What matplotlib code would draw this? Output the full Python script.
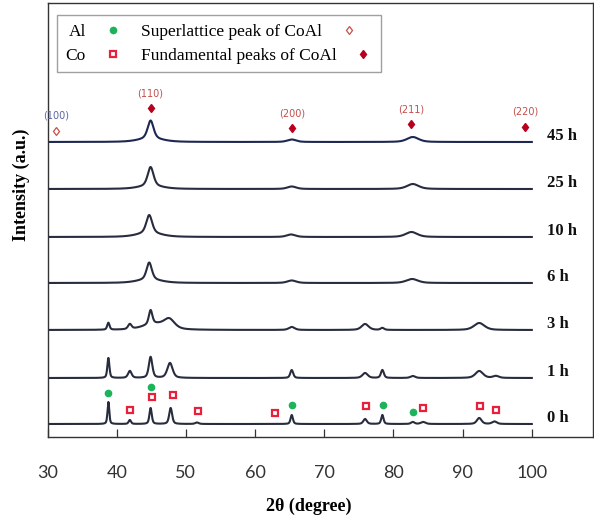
import numpy as np
import matplotlib
matplotlib.use("Agg")
import matplotlib.pyplot as plt

# ---------------- data ----------------
hours = ["0 h", "1 h", "3 h", "6 h", "10 h", "25 h", "45 h"]
offsets = [13, 59, 107, 154, 200, 248, 295]          # vertical stacking offsets (a.u.)

pos_0h = [38.8, 41.9, 44.9, 47.8, 51.6, 65.3, 75.9, 78.4, 82.8, 84.3, 92.4, 94.6]
amp_0h = [22, 4, 16, 16, 1.5, 9, 5, 9, 2, 2, 6, 2.5]
wid_0h = [0.3, 0.4, 0.4, 0.5, 0.6, 0.4, 0.6, 0.4, 0.6, 0.8, 0.8, 0.8]

pos_1h = [38.8, 41.9, 44.9, 47.7, 65.3, 75.9, 78.4, 82.8, 92.4, 94.8]
amp_1h = [20, 7, 21, 15, 8, 5, 8, 2, 7, 2]
wid_1h = [0.35, 0.6, 0.6, 0.9, 0.5, 0.9, 0.5, 0.8, 1.3, 1.0]

pos_3h = [38.8, 41.9, 44.9, 45.5, 47.6, 65.3, 75.9, 78.4, 92.4]
amp_3h = [7, 5, 14, 6, 9, 3, 6, 2, 7]
wid_3h = [0.4, 0.6, 0.6, 4.0, 1.8, 1.0, 1.2, 0.6, 1.8]

pos_6h = [44.7, 44.7, 65.3, 82.7]
amp_6h = [17, 3.5, 2.5, 4]
wid_6h = [0.9, 4.0, 1.5, 2.0]

pos_10h = [44.7, 44.7, 65.2, 82.6]
amp_10h = [18, 4, 2.5, 5]
wid_10h = [1.0, 4.0, 1.5, 2.0]

pos_25h = [44.9, 44.9, 65.3, 82.8]
amp_25h = [19, 3, 2.5, 5]
wid_25h = [1.0, 4.0, 1.5, 2.0]

pos_45h = [44.9, 44.9, 65.3, 82.8]
amp_45h = [18, 3.5, 2.5, 5]
wid_45h = [1.0, 4.0, 1.5, 2.0]

# phase markers on the 0 h pattern
al_pos = [38.8, 44.9, 65.3, 78.5, 82.8]
al_int = [44, 50, 32, 32, 25]
co_pos = [41.9, 45.05, 48.1, 51.7, 62.9, 76.1, 84.3, 92.5, 94.8]
co_int = [27, 40, 42, 26, 24, 31, 29, 31, 27]

# CoAl reflections on the 45 h pattern
hkl_labels = ["(100)", "(110)", "(200)", "(211)", "(220)"]
hkl_pos = [31.2, 44.9, 65.3, 82.6, 99.0]
hkl_int = [306, 329, 309, 313, 310]

xticks = [30, 40, 50, 60, 70, 80, 90, 100]

# ---------------- figure ----------------
W, H = 594, 519
fig = plt.figure(figsize=(W / 100, H / 100), dpi=100)
ax = fig.add_axes([47.5 / W, (H - 437) / H, (592.7 - 47.5) / W, (437 - 3) / H])

two_theta = np.linspace(30, 100, 3501)


def profile(pos, amp, wid):
    y = np.zeros_like(two_theta)
    for p, a, w in zip(pos, amp, wid):
        hw = w / 2.0
        lor = 1.0 / (1.0 + ((two_theta - p) / hw) ** 2)
        gau = np.exp(-np.log(2) * ((two_theta - p) / hw) ** 2)
        y += a * (0.5 * lor + 0.5 * gau)
    return y


patterns = [
    (pos_0h, amp_0h, wid_0h),
    (pos_1h, amp_1h, wid_1h),
    (pos_3h, amp_3h, wid_3h),
    (pos_6h, amp_6h, wid_6h),
    (pos_10h, amp_10h, wid_10h),
    (pos_25h, amp_25h, wid_25h),
    (pos_45h, amp_45h, wid_45h),
]

for (p, a, w), off, lab in zip(patterns, offsets, hours):
    col = "#1d2752" if lab == "45 h" else "#272c3e"
    ax.plot(two_theta, off + profile(p, a, w), color=col, lw=1.5, solid_joinstyle="round")
    ax.text(102.2, off + 6, lab, ha="left", va="center",
            fontfamily="Liberation Serif", fontweight="bold", fontsize=12, color="#111111")

al_art, = ax.plot(al_pos, al_int, linestyle="none", marker="o", ms=4.5,
                  mfc="#1db35a", mec="#1db35a", label="Al")
co_art, = ax.plot(co_pos, co_int, linestyle="none", marker="s", ms=4.5,
                  mfc="white", mec="#e8203c", mew=1.6, label="Co")

sup_art, = ax.plot(hkl_pos[:1], hkl_int[:1], linestyle="none", marker="d", ms=4.5,
                   mfc="white", mec="#c8504a", mew=0.9, label="Superlattice peak of CoAl")
fun_art, = ax.plot(hkl_pos[1:], hkl_int[1:], linestyle="none", marker="d", ms=4.5,
                   mfc="#b8001e", mec="#b8001e", label="Fundamental peaks of CoAl")

for lab, p, v in zip(hkl_labels, hkl_pos, hkl_int):
    c = "#5a66a0" if lab == "(100)" else "#c0504d"
    ax.text(p, v + 15, lab, ha="center", va="center", fontsize=7,
            fontfamily="DejaVu Sans", color=c)

ax.set_xlim(30, 108.8)
ax.set_ylim(0, 434)
ax.set_xticks(xticks)
ax.set_yticks([])
ax.tick_params(axis="x", direction="in", length=6, width=0.9, pad=20,
               labelsize=13, colors="#333333")
for t in ax.get_xticklabels():
    t.set_fontfamily("Lato")
for s in ax.spines.values():
    s.set_color("#333333")
    s.set_linewidth(1.0)

leg = ax.legend(handles=[al_art, co_art, sup_art, fun_art], ncol=2,
                markerfirst=False, loc="upper left",
                bbox_to_anchor=(57 / W, 1 - 15 / H), bbox_transform=fig.transFigure,
                borderaxespad=0, frameon=True, fancybox=False,
                prop={"family": "Liberation Serif", "size": 12.5},
                handlelength=1.0, handletextpad=1.05, columnspacing=1.1,
                labelspacing=0.45, borderpad=0.5, numpoints=1)
leg.get_frame().set_edgecolor("#888888")
leg.get_frame().set_linewidth(1.0)
# left-align the text of the second legend column, as in the original
try:
    cols = leg._legend_handle_box.get_children()
    cols[1].align = "left"
except Exception:
    pass

fig.text(309 / W, 1 - 506.7 / H, "2θ (degree)", ha="center", va="center",
         fontfamily="Liberation Serif", fontweight="bold", fontsize=13)
fig.text(21.7 / W, 1 - 185 / H, "Intensity (a.u.)", ha="center", va="center",
         rotation=90, fontfamily="Liberation Serif", fontweight="bold", fontsize=13)

fig.savefig("out.png", dpi=100)
